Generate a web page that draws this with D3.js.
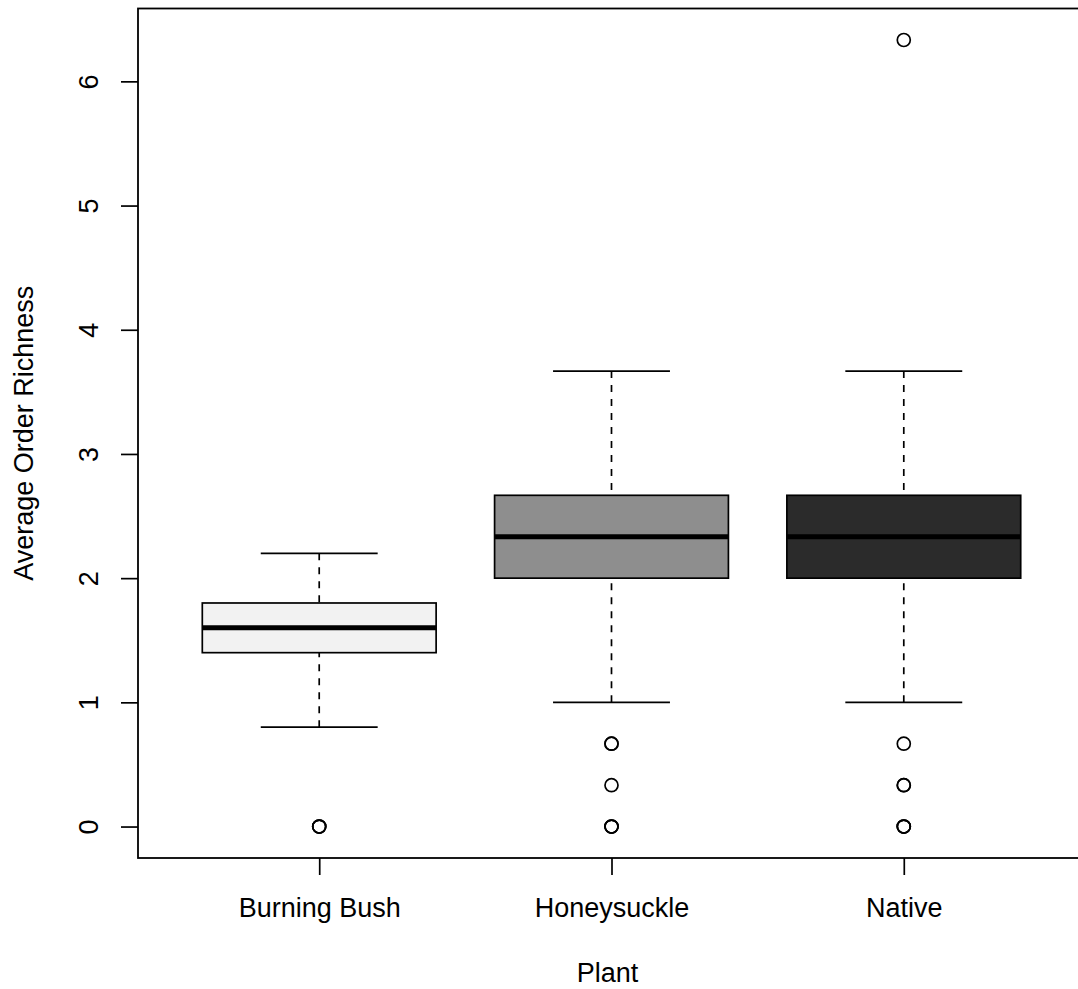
<!DOCTYPE html>
<html>
<head lang="en">
    <meta charset="UTF-8">
    <title>Average Order Richness by Plant</title>
    <script type="text/javascript" src="https://cdn.jsdelivr.net/npm/d3@7/dist/d3.min.js"></script>
    <style>
        body { margin: 0; background: #fff; }
        text { font-family: "Liberation Sans", Arial, Helvetica, sans-serif; font-size: 27px; fill: #000; }
    </style>
</head>
<body>
<div class="holder"></div>

<script>
    var plants = ["Burning Bush", "Honeysuckle", "Native"];
    // five number summaries: low whisker, Q1, median, Q3, high whisker
    var whiskerLow  = [0.8, 1.0, 1.0];
    var q1          = [1.4, 2.0, 2.0];
    var medians     = [1.6, 2.333, 2.333];
    var q3          = [1.8, 2.667, 2.667];
    var whiskerHigh = [2.2, 3.667, 3.667];
    // outliers, repeated where the circle is drawn bold (several points on top of each other)
    var outliers = [
        [0, 0, 0],
        [0.667, 0.667, 0.333, 0, 0, 0],
        [6.333, 0.667, 0.333, 0.333, 0, 0, 0]
    ];
    var fills = ["#f2f2f2", "#8e8e8e", "#2b2b2b"];
    var yTicks = [0, 1, 2, 3, 4, 5, 6];

    var width = 1078, height = 989;
    var plotLeft = 138, plotRight = 1085, plotTop = 8.5, plotBottom = 858;

    var svg = d3.select(".holder")
            .append("svg")
            .attr("width", width)
            .attr("height", height);

    var x = d3.scaleLinear().domain([0.38, 3.62]).range([plotLeft, plotRight]);
    var y = d3.scaleLinear().domain([-0.2533, 6.5867]).range([plotBottom, plotTop]);

    var boxHalf = 0.4, capHalf = 0.2;

    var boxes = svg.selectAll("g.box")
            .data(plants)
            .enter()
            .append("g")
            .attr("class", "box");

    // whiskers (dashed), drawn from the cap to the box like R does
    boxes.append("line")
            .attr("x1", function(d, i) { return x(i + 1); })
            .attr("x2", function(d, i) { return x(i + 1); })
            .attr("y1", function(d, i) { return y(whiskerHigh[i]); })
            .attr("y2", function(d, i) { return y(q3[i]); })
            .attr("stroke", "black").attr("stroke-width", 1.7)
            .attr("stroke-dasharray", "7,7");
    boxes.append("line")
            .attr("x1", function(d, i) { return x(i + 1); })
            .attr("x2", function(d, i) { return x(i + 1); })
            .attr("y1", function(d, i) { return y(whiskerLow[i]); })
            .attr("y2", function(d, i) { return y(q1[i]); })
            .attr("stroke", "black").attr("stroke-width", 1.7)
            .attr("stroke-dasharray", "7,7");

    // caps
    [whiskerLow, whiskerHigh].forEach(function(arr) {
        boxes.append("line")
                .attr("x1", function(d, i) { return x(i + 1 - capHalf); })
                .attr("x2", function(d, i) { return x(i + 1 + capHalf); })
                .attr("y1", function(d, i) { return y(arr[i]); })
                .attr("y2", function(d, i) { return y(arr[i]); })
                .attr("stroke", "black").attr("stroke-width", 1.7);
    });

    // boxes
    boxes.append("rect")
            .attr("x", function(d, i) { return x(i + 1 - boxHalf); })
            .attr("width", function(d, i) { return x(i + 1 + boxHalf) - x(i + 1 - boxHalf); })
            .attr("y", function(d, i) { return y(q3[i]); })
            .attr("height", function(d, i) { return y(q1[i]) - y(q3[i]); })
            .attr("fill", function(d, i) { return fills[i]; })
            .attr("stroke", "black").attr("stroke-width", 1.7);

    // medians
    boxes.append("line")
            .attr("x1", function(d, i) { return x(i + 1 - boxHalf); })
            .attr("x2", function(d, i) { return x(i + 1 + boxHalf); })
            .attr("y1", function(d, i) { return y(medians[i]); })
            .attr("y2", function(d, i) { return y(medians[i]); })
            .attr("stroke", "black").attr("stroke-width", 5);

    // outliers
    boxes.selectAll("circle")
            .data(function(d, i) { return outliers[i].map(function(v) { return {g: i + 1, v: v}; }); })
            .enter()
            .append("circle")
            .attr("cx", function(d) { return x(d.g); })
            .attr("cy", function(d) { return y(d.v); })
            .attr("r", 6.5)
            .attr("fill", "none")
            .attr("stroke", "black")
            .attr("stroke-width", 1.7);

    // frame
    svg.append("rect")
            .attr("x", plotLeft).attr("y", plotTop)
            .attr("width", plotRight - plotLeft).attr("height", plotBottom - plotTop)
            .attr("fill", "none")
            .attr("stroke", "black")
            .attr("stroke-width", 1.8);

    // y axis
    var yAxis = svg.append("g")
            .attr("transform", "translate(" + plotLeft + ",0)")
            .call(d3.axisLeft(y).tickValues(yTicks).tickSize(17).tickFormat(d3.format("d")));
    yAxis.select(".domain").remove();
    yAxis.selectAll("line").attr("stroke", "black").attr("stroke-width", 1.7);
    yAxis.selectAll("text")
            .attr("x", null).attr("dy", null)
            .attr("transform", "translate(-40,0) rotate(-90)")
            .attr("text-anchor", "middle")
            .style("font-size", "27px")
            .style("font-family", "Liberation Sans, Arial, sans-serif");

    // x axis
    var xAxis = svg.append("g")
            .attr("transform", "translate(0," + plotBottom + ")")
            .call(d3.axisBottom(x).tickValues([1, 2, 3]).tickSize(17)
                    .tickFormat(function(d) { return plants[d - 1]; }));
    xAxis.select(".domain").remove();
    xAxis.selectAll("line").attr("stroke", "black").attr("stroke-width", 1.7);
    xAxis.selectAll("text")
            .attr("y", 59).attr("dy", null)
            .style("font-size", "27px")
            .style("font-family", "Liberation Sans, Arial, sans-serif");

    // axis titles
    svg.append("text")
            .attr("x", (plotLeft + plotRight) / 2 - 4)
            .attr("y", 982)
            .attr("text-anchor", "middle")
            .text("Plant");
    svg.append("text")
            .attr("transform", "translate(33," + ((plotTop + plotBottom) / 2) + ") rotate(-90)")
            .attr("text-anchor", "middle")
            .text("Average Order Richness");
</script>
</body>
</html>
